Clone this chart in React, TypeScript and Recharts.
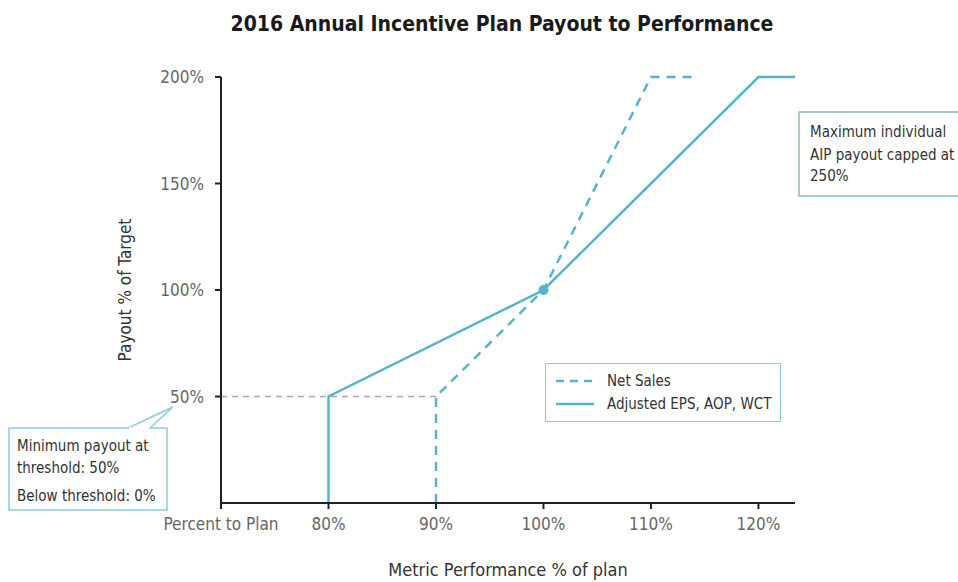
import React from "react";
import { LineChart, Line, XAxis, YAxis, Legend } from "recharts";

const xTicks = [70, 80, 90, 100, 110, 120];
const yTicks = [50, 100, 150, 200];
const netSalesX = [90, 90, 100, 110, 114.4];
const netSalesY = [0, 50, 100, 200, 200];
const adjustedX = [80, 80, 100, 120, 123.4];
const adjustedY = [0, 50, 100, 200, 200];
const thresholdX = [70, 90];
const thresholdY = [50, 50];
const pivotIndex = 2;

const toRows = (xs: number[], ys: number[]) => xs.map((x, i) => ({ x, y: ys[i] }));
const netSales = toRows(netSalesX, netSalesY);
const adjusted = toRows(adjustedX, adjustedY);
const threshold = toRows(thresholdX, thresholdY);

const FONT = "'DejaVu Sans Condensed', 'Liberation Sans Narrow', sans-serif";
const TEAL = "#55b4cc";
const BORDER = "#8ccbd7";

const xFmt = (v: number) => (v === 70 ? "Percent to Plan" : `${v}%`);
const yFmt = (v: number) => `${v}%`;

const LegendBox = () => (
  <div
    style={{
      width: 234,
      height: 57,
      border: `1.5px solid ${BORDER}`,
      background: "#fff",
      fontFamily: FONT,
      fontSize: 15,
      color: "#333",
      position: "relative",
    }}
  >
    <svg width={60} height={57} style={{ position: "absolute", left: 0, top: 0 }}>
      <line x1={10} x2={48} y1={17} y2={17} stroke={TEAL} strokeWidth={2.5} strokeDasharray="8 6" />
      <line x1={10} x2={48} y1={40} y2={40} stroke={TEAL} strokeWidth={2.5} />
    </svg>
    <div style={{ position: "absolute", left: 61, top: 8 }}>Net Sales</div>
    <div style={{ position: "absolute", left: 61, top: 31 }}>Adjusted EPS, AOP, WCT</div>
  </div>
);

const PivotDot = (props: any) => {
  const { cx, cy, index } = props;
  if (index !== pivotIndex) return <g key={`d${index}`} />;
  return <circle key={`d${index}`} cx={cx} cy={cy} r={5} fill={TEAL} stroke="none" />;
};

export default function App() {
  return (
    <div style={{ position: "absolute", left: 0, top: 0, width: 958, height: 582, background: "#fff" }}>
      <LineChart
        width={958}
        height={582}
        margin={{ top: 77, right: 163, bottom: 0, left: 121 }}
        style={{ fontFamily: FONT }}
      >
        <XAxis
          type="number"
          dataKey="x"
          domain={[70, "dataMax"]}
          ticks={xTicks}
          tickFormatter={xFmt}
          height={79}
          tickSize={6}
          tickMargin={9}
          axisLine={{ stroke: "#222", strokeWidth: 2 }}
          tickLine={{ stroke: "#222", strokeWidth: 2 }}
          tick={{ fill: "#666", fontSize: 17, fontFamily: FONT }}
          label={{
            value: "Metric Performance % of plan",
            position: "insideBottom",
            offset: 6,
            style: { fill: "#333", fontSize: 18, fontFamily: FONT },
          }}
          allowDuplicatedCategory
        />
        <YAxis
          type="number"
          dataKey="y"
          domain={[0, 200]}
          ticks={yTicks}
          tickFormatter={yFmt}
          width={100}
          tickSize={6}
          tickMargin={11}
          axisLine={{ stroke: "#222", strokeWidth: 2 }}
          tickLine={{ stroke: "#222", strokeWidth: 2 }}
          tick={{ fill: "#666", fontSize: 17, fontFamily: FONT }}
          label={{
            value: "Payout % of Target",
            angle: -90,
            position: "insideLeft",
            offset: 4,
            style: { fill: "#333", fontSize: 17, fontFamily: FONT, textAnchor: "middle" },
          }}
        />
        <Line
          data={threshold}
          dataKey="y"
          type="linear"
          stroke="#aaa"
          strokeWidth={1.5}
          strokeDasharray="6 5"
          dot={false}
          activeDot={false}
          legendType="none"
          isAnimationActive={false}
        />
        <Line
          data={netSales}
          dataKey="y"
          name="Net Sales"
          type="linear"
          stroke={TEAL}
          strokeWidth={2.5}
          strokeDasharray="9 7"
          dot={false}
          activeDot={false}
          isAnimationActive={false}
        />
        <Line
          data={adjusted}
          dataKey="y"
          name="Adjusted EPS, AOP, WCT"
          type="linear"
          stroke={TEAL}
          strokeWidth={2.5}
          dot={PivotDot}
          activeDot={false}
          isAnimationActive={false}
        />
        <Legend
          layout="horizontal"
          verticalAlign="middle"
          align="center"
          content={() => <LegendBox />}
          wrapperStyle={{ position: "absolute", left: 545, top: 363, width: 236, height: 59 }}
        />
      </LineChart>
      <svg
        width={958}
        height={582}
        style={{ position: "absolute", left: 0, top: 0, pointerEvents: "none", fontFamily: FONT }}
      >
        <text x={502} y={31} textAnchor="middle" fontSize={21} fontWeight="bold" fill="#1a1a1a">
          2016 Annual Incentive Plan Payout to Performance
        </text>
        <rect x={9} y={428} width={158} height={82} fill="#fff" stroke={BORDER} strokeWidth={1.5} />
        <path d="M128,428 L173,407 L150,428" fill="#fff" stroke={BORDER} strokeWidth={1.5} />
        <line x1={129} x2={149} y1={428} y2={428} stroke="#fff" strokeWidth={2} />
        <text x={17} y={451} fontSize={15} fill="#333">Minimum payout at</text>
        <text x={17} y={473} fontSize={15} fill="#333">threshold: 50%</text>
        <text x={17} y={501} fontSize={15} fill="#333">Below threshold: 0%</text>
        <rect x={799} y={112} width={170} height={84} fill="#fff" stroke="#86bcc4" strokeWidth={1.5} />
        <text x={810} y={137} fontSize={15} fill="#333">Maximum individual</text>
        <text x={810} y={160} fontSize={15} fill="#333">AIP payout capped at</text>
        <text x={810} y={181} fontSize={15} fill="#333">250%</text>
      </svg>
    </div>
  );
}
